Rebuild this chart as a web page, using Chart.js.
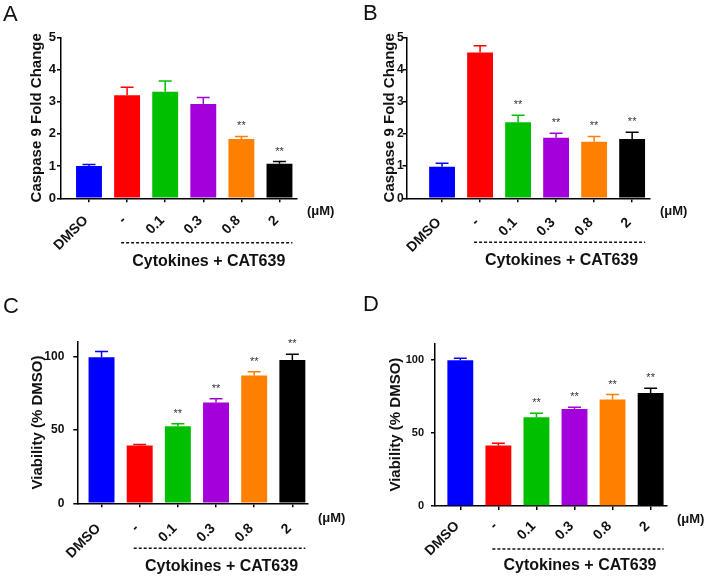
<!DOCTYPE html>
<html lang="en">
<head>
  <meta charset="UTF-8">
  <script src="https://cdn.jsdelivr.net/npm/chart.js"></script>
  <title>Caspase 9 and viability with CAT639</title>
  <style>
    body { margin: 0; background: #fff; }
    #wrap { position: relative; width: 709px; height: 576px; }
    .panel { position: absolute; }
  </style>
</head>
<body>
<div id="wrap">
  <div class="panel" style="left:0;top:0"><canvas id="chartA" width="360" height="290"></canvas></div>
  <div class="panel" style="left:360px;top:0"><canvas id="chartB" width="349" height="290"></canvas></div>
  <div class="panel" style="left:0;top:290px"><canvas id="chartC" width="360" height="286"></canvas></div>
  <div class="panel" style="left:360px;top:290px"><canvas id="chartD" width="349" height="286"></canvas></div>
</div>

<script>
  // groups on the x axis (same in every panel)
  const groups = ['DMSO', '-', '0.1', '0.3', '0.8', '2'];
  const barColors = ['#0000ff', '#ff0000', '#00bf00', '#a300dc', '#ff8000', '#000000'];

  // A: caspase 9 fold change
  const caspaseA = [1.0, 3.2, 3.31, 2.93, 1.84, 1.07];
  const caspaseAErr = [0.05, 0.25, 0.33, 0.2, 0.08, 0.07];
  const sigA = [0, 0, 0, 0, 1, 1];

  // B: caspase 9 fold change
  const caspaseB = [0.98, 4.53, 2.36, 1.88, 1.76, 1.84];
  const caspaseBErr = [0.11, 0.21, 0.22, 0.14, 0.16, 0.21];
  const sigB = [0, 0, 1, 1, 1, 1];

  // C: viability (% DMSO)
  const viabilityC = [99.5, 39.3, 52.5, 68.6, 87.0, 97.5];
  const viabilityCErr = [3.9, 0.7, 1.6, 2.5, 2.5, 3.9];
  const sigC = [0, 0, 1, 1, 1, 1];

  // D: viability (% DMSO)
  const viabilityD = [99.8, 41.5, 60.7, 66.4, 73.0, 77.4];
  const viabilityDErr = [1.4, 1.4, 2.8, 1.2, 3.3, 3.2];
  const sigD = [0, 0, 1, 1, 1, 1];

  const caspaseTicks = [0, 1, 2, 3, 4, 5];
  const viabilityTicks = [0, 50, 100];

  const FONT = "'Liberation Sans', Arial, sans-serif";
  Chart.defaults.font.family = FONT;
  Chart.defaults.color = '#111';

  // error bars, asterisks, dashed bracket and extra labels
  const extras = {
    id: 'extras',
    afterDatasetsDraw(chart, args, o) {
      const ctx = chart.ctx;
      const xs = chart.scales.x, ys = chart.scales.y;
      const bars = chart.getDatasetMeta(0).data;
      ctx.save();
      o.means.forEach((m, i) => {
        const cx = xs.getPixelForValue(i);
        const base = ys.getPixelForValue(m);
        const top = ys.getPixelForValue(m + o.errs[i]);
        const cap = bars[i].width * 0.25;
        ctx.strokeStyle = barColors[i];
        ctx.lineWidth = 1.5;
        ctx.beginPath();
        ctx.moveTo(cx, base);
        ctx.lineTo(cx, top);
        ctx.moveTo(cx - cap, top);
        ctx.lineTo(cx + cap, top);
        ctx.stroke();
        if (o.sig[i]) {
          ctx.fillStyle = '#333';
          ctx.font = '11px ' + FONT;
          ctx.textAlign = 'center';
          ctx.textBaseline = 'alphabetic';
          ctx.fillText('**', cx, top - 7);
        }
      });
      ctx.restore();
    },
    afterDraw(chart, args, o) {
      const ctx = chart.ctx;
      const area = chart.chartArea;
      const xs = chart.scales.x;
      const bars = chart.getDatasetMeta(0).data;
      const last = bars[bars.length - 1];
      ctx.save();
      // panel letter
      ctx.fillStyle = '#111';
      ctx.font = '22px ' + FONT;
      ctx.textAlign = 'left';
      ctx.textBaseline = 'alphabetic';
      ctx.fillText(o.letter, 3, o.letterY);
      // unit
      ctx.font = 'bold 13px ' + FONT;
      ctx.textBaseline = 'middle';
      ctx.fillText('(\u03bcM)', area.right + 10, area.bottom + o.unitDy);
      // dashed bracket
      const x1 = xs.getPixelForValue(1) - 6;
      const x2 = last.x + last.width / 2;
      const ly = area.bottom + o.dashDy;
      ctx.strokeStyle = '#111';
      ctx.lineWidth = 1.5;
      ctx.setLineDash([3, 2]);
      ctx.beginPath();
      ctx.moveTo(x1, ly);
      ctx.lineTo(x2, ly);
      ctx.stroke();
      ctx.setLineDash([]);
      ctx.font = 'bold 16px ' + FONT;
      ctx.textAlign = 'center';
      ctx.fillText('Cytokines + CAT639', (x1 + x2) / 2 + 2, area.bottom + o.textDy);
      ctx.restore();
    }
  };

  function makePanel(id, p) {
    const canvas = document.getElementById(id);
    new Chart(canvas, {
      type: 'bar',
      data: {
        datasets: [{
          data: p.means.map((v, i) => ({ x: i, y: v })),
          backgroundColor: barColors,
          borderWidth: 0,
          categoryPercentage: 1,
          barPercentage: 0.68
        }]
      },
      options: {
        responsive: false,
        animation: false,
        layout: { padding: { top: p.top, right: canvas.width - p.right, left: 0, bottom: 0 } },
        plugins: {
          legend: { display: false },
          tooltip: { enabled: false },
          extras: p
        },
        scales: {
          x: {
            type: 'linear',
            offset: false,
            min: p.xMin,
            max: p.xMax,
            afterBuildTicks: s => { s.ticks = groups.map((g, i) => ({ value: i })); },
            afterFit: s => { s.height = canvas.height - p.bottom; },
            ticks: {
              callback: v => groups[Math.round(v)],
              minRotation: 45,
              maxRotation: 45,
              autoSkip: false,
              padding: p.xPad,
              labelOffset: -3,
              font: { size: 14, weight: 'bold' }
            },
            grid: { offset: false, drawOnChartArea: false, tickLength: 4, color: '#000', lineWidth: 1.5 },
            border: { color: '#000', width: 1.5 }
          },
          y: {
            min: 0,
            max: p.yMax,
            afterBuildTicks: s => { s.ticks = p.yTicks.map(v => ({ value: v })); },
            afterFit: s => { s.width = p.left; },
            ticks: { padding: p.yPad, font: { size: p.yFont, weight: 'bold' } },
            grid: { drawOnChartArea: false, tickLength: 4, color: '#000', lineWidth: 1.5 },
            border: { color: '#000', width: 1.5 },
            title: {
              display: true,
              text: p.yTitle,
              font: { size: 15, weight: 'bold' },
              padding: { top: p.titleX - 9, bottom: 0 }
            }
          }
        }
      },
      plugins: [extras]
    });
  }

  makePanel('chartA', {
    letter: 'A', letterY: 21, means: caspaseA, errs: caspaseAErr, sig: sigA,
    yTitle: 'Caspase 9 Fold Change', yMax: 5, yTicks: caspaseTicks,
    left: 61, right: 297, top: 37.3, bottom: 198.3,
    xMin: -0.735, xMax: 5.46, xPad: 10, yPad: 1, yFont: 13, titleX: 36.7,
    unitDy: 13, dashDy: 44.5, textDy: 63
  });

  makePanel('chartB', {
    letter: 'B', letterY: 20, means: caspaseB, errs: caspaseBErr, sig: sigB,
    yTitle: 'Caspase 9 Fold Change', yMax: 5, yTicks: caspaseTicks,
    left: 46.7, right: 290, top: 37.3, bottom: 198.3,
    xMin: -0.93, xMax: 5.47, xPad: 12, yPad: -1, yFont: 12, titleX: 30,
    unitDy: 13, dashDy: 44, textDy: 62
  });

  makePanel('chartC', {
    letter: 'C', letterY: 23, means: viabilityC, errs: viabilityCErr, sig: sigC,
    yTitle: 'Viability (% DMSO)', yMax: 110, yTicks: viabilityTicks,
    left: 77.3, right: 308, top: 51.7, bottom: 213.3,
    xMin: -0.635, xMax: 5.41, xPad: 13, yPad: 9, yFont: 12, titleX: 37.5,
    unitDy: 15, dashDy: 45, textDy: 63
  });

  makePanel('chartD', {
    letter: 'D', letterY: 21, means: viabilityD, errs: viabilityDErr, sig: sigD,
    yTitle: 'Viability (% DMSO)', yMax: 111.4, yTicks: viabilityTicks,
    left: 75, right: 307, top: 53.3, bottom: 216,
    xMin: -0.665, xMax: 5.43, xPad: 8, yPad: 7, yFont: 11, titleX: 35.5,
    unitDy: 13, dashDy: 43, textDy: 60
  });
</script>
</body>
</html>
